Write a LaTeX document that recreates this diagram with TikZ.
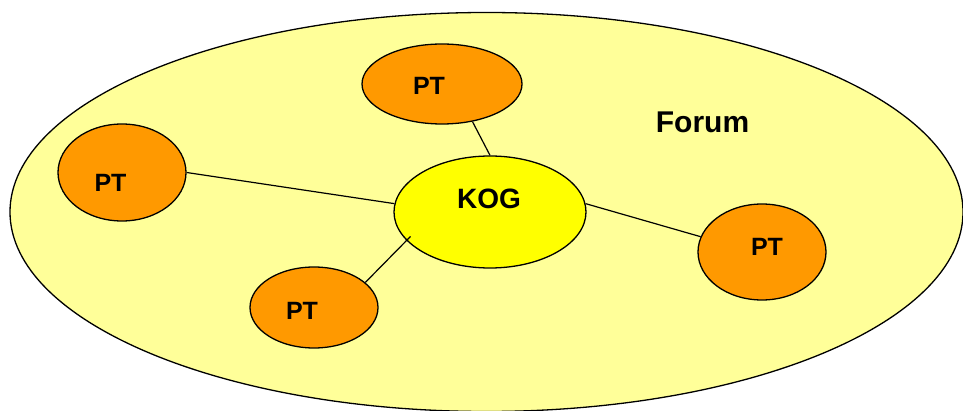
\documentclass[tikz,border=0pt]{standalone}
\usepackage{fontspec}
\setmainfont{Liberation Sans}
\usetikzlibrary{shapes.geometric}
\definecolor{forumfill}{RGB}{255,255,153}
\definecolor{kogfill}{RGB}{255,255,0}
\definecolor{ptfill}{RGB}{255,153,0}
\tikzset{
  blob/.style={ellipse, draw=black, line width=1.3pt, inner sep=0pt},
  ptnode/.style={blob, fill=ptfill},
  lbl/.style={font=\bfseries\fontsize{25}{25}\selectfont, inner sep=0pt},
  link/.style={draw=black, line width=1.2pt}
}
\begin{document}
\begin{tikzpicture}[x=1pt,y=-1pt]
\useasboundingbox (0,0) rectangle (963,411);
\node[blob, fill=forumfill, minimum width=953pt, minimum height=399pt] (forum) at (486.5,212) {};
\node[font=\bfseries\fontsize{30}{30}\selectfont, inner sep=0pt] (forumtxt) at (702.5,122) {Forum};
\node[blob, fill=kogfill, minimum width=192pt, minimum height=112pt,
      label={[font=\bfseries\fontsize{28}{28}\selectfont, inner sep=0pt, xshift=-1pt, yshift=13pt]center:KOG}] (kog) at (490,212) {};
\node[ptnode, minimum width=160pt, minimum height=80pt,
      label={[lbl, xshift=-13pt, yshift=-2pt]center:PT}] (pt1) at (442,84) {};
\node[ptnode, minimum width=128pt, minimum height=97pt,
      label={[lbl, xshift=-11.5pt, yshift=-10pt]center:PT}] (pt2) at (122,172.5) {};
\node[ptnode, minimum width=128pt, minimum height=96pt,
      label={[lbl, xshift=5pt, yshift=5.3pt]center:PT}] (pt3) at (762,252) {};
\node[ptnode, minimum width=128pt, minimum height=81pt,
      label={[lbl, xshift=-12pt, yshift=-3pt]center:PT}] (pt4) at (314,307.5) {};
\coordinate (kogin) at (410.5,236.5);
\draw[link] (pt1.-51) -- (kog.90);
\draw[link] (pt2.0) -- (kog.175);
\draw[link] (kog.5) -- (pt3.166);
\draw[link] (pt4.26) -- (kogin);
\end{tikzpicture}
\end{document}
